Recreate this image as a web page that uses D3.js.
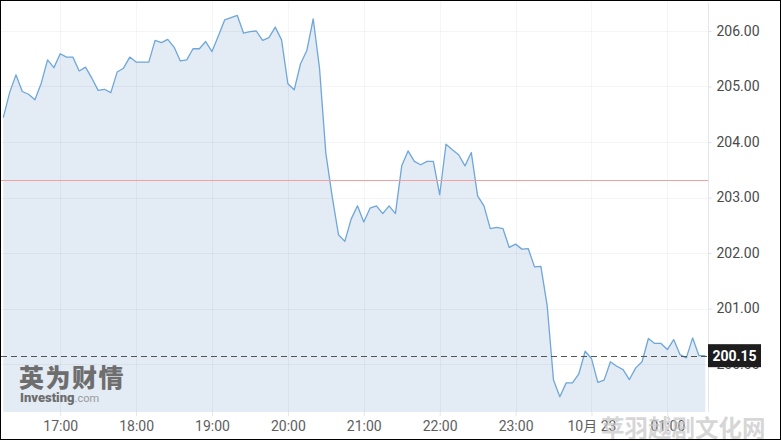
<!DOCTYPE html>
<html>
<head>
<meta charset="utf-8">
<script src="https://cdn.jsdelivr.net/npm/d3@7/dist/d3.min.js"></script>
<style>
  html, body { margin: 0; padding: 0; background: #fff; }
  svg { display: block; }
  text { font-family: Roboto, "Noto Sans", sans-serif; }
</style>
</head>
<body>
<svg id="chart" width="782" height="441"></svg>
<script>
// ---- data (5-minute prices, 16:15 → 01:30) ----
const startTime = new Date(2023, 9, 22, 16, 15);
const stepMinutes = 5;
const prices = [
  204.44, 204.89, 205.21, 204.91, 204.86, 204.76, 205.06, 205.48, 205.34, 205.59,
  205.53, 205.53, 205.28, 205.35, 205.15, 204.93, 204.95, 204.89, 205.26, 205.33,
  205.53, 205.44, 205.44, 205.44, 205.83, 205.79, 205.85, 205.71, 205.46, 205.48,
  205.68, 205.68, 205.81, 205.63, 205.91, 206.20, 206.24, 206.28, 205.96, 205.99,
  206.00, 205.83, 205.88, 206.07, 205.84, 205.05, 204.94, 205.41, 205.65, 206.22,
  205.33, 203.80, 203.02, 202.33, 202.21, 202.61, 202.85, 202.56, 202.81, 202.85,
  202.71, 202.85, 202.71, 203.57, 203.84, 203.65, 203.59, 203.65, 203.65, 203.05,
  203.96, 203.86, 203.77, 203.57, 203.81, 203.03, 202.85, 202.44, 202.46, 202.44,
  202.10, 202.16, 202.07, 202.08, 201.75, 201.76, 201.05, 199.71, 199.41, 199.66,
  199.66, 199.82, 200.23, 200.10, 199.67, 199.71, 200.04, 199.96, 199.90, 199.72,
  199.93, 200.04, 200.46, 200.37, 200.37, 200.26, 200.44, 200.17, 200.11, 200.47,
  200.15, 200.15
];
const yTickValues = [200, 201, 202, 203, 204, 205, 206];
const prevClose = 203.31;
const lastPrice = 200.15;
const lastLabel = "200.15";
const midnightLabel = "10月 23";
const logoText = "英为财情";
const logoSub = "Investing";
const logoSub2 = ".com";
const watermark = "苹羽越剧文化网";

const data = prices.map((v, i) => ({ t: new Date(startTime.getTime() + i * stepMinutes * 60000), v }));
const endTime = data[data.length - 1].t;

// ---- layout ----
const svg = d3.select("#chart");
const W = 782, H = 441;
const plotLeft = 1, plotRight = 708, plotTop = 1, plotBottom = 412;

const x = d3.scaleTime().domain([startTime, endTime]).range([3.3, 705.3]);
const y = d3.scaleLinear().domain([200, 206]).range([364, 31]);

svg.append("rect").attr("width", W).attr("height", H).attr("fill", "#fff");

svg.append("defs").append("clipPath").attr("id", "plotclip")
  .append("rect").attr("x", plotLeft).attr("y", plotTop)
  .attr("width", plotRight - plotLeft).attr("height", plotBottom - plotTop);

// area
const area = d3.area().x(d => x(d.t)).y0(plotBottom).y1(d => y(d.v));
svg.append("path").datum(data)
  .attr("d", area).attr("fill", "#e3ebf4")
  .attr("clip-path", "url(#plotclip)");

// grid
const hourTicks = d3.timeHour.every(1).range(new Date(2023, 9, 22, 17), new Date(2023, 9, 23, 1, 1));
const grid = svg.append("g").attr("clip-path", "url(#plotclip)");
grid.selectAll("line.h").data(yTickValues).join("line")
  .attr("x1", plotLeft).attr("x2", plotRight)
  .attr("y1", d => Math.round(y(d)) + 0.5).attr("y2", d => Math.round(y(d)) + 0.5)
  .attr("stroke", "rgba(60,80,110,0.06)").attr("stroke-width", 1);
grid.selectAll("line.v").data(hourTicks).join("line")
  .attr("x1", d => Math.round(x(d)) + 0.5).attr("x2", d => Math.round(x(d)) + 0.5)
  .attr("y1", plotTop).attr("y2", plotBottom)
  .attr("stroke", "rgba(60,80,110,0.06)").attr("stroke-width", 1);

// price line
const line = d3.line().x(d => x(d.t)).y(d => y(d.v));
svg.append("path").datum(data)
  .attr("d", line).attr("fill", "none")
  .attr("stroke", "#6ea7d8").attr("stroke-width", 1.3)
  .attr("stroke-linejoin", "round")
  .attr("clip-path", "url(#plotclip)");

// previous close line
svg.append("line")
  .attr("x1", plotLeft).attr("x2", plotRight)
  .attr("y1", Math.round(y(prevClose)) + 0.5).attr("y2", Math.round(y(prevClose)) + 0.5)
  .attr("stroke", "#f2a0a0").attr("stroke-width", 1);

// last price dashed line
svg.append("line")
  .attr("x1", plotLeft).attr("x2", plotRight)
  .attr("y1", Math.round(y(lastPrice)) + 0.5).attr("y2", Math.round(y(lastPrice)) + 0.5)
  .attr("stroke", "#555").attr("stroke-width", 1)
  .attr("stroke-dasharray", "6,4");

// right axis
const yAxis = d3.axisRight(y).tickValues(yTickValues).tickFormat(d3.format(".2f")).tickSize(3).tickPadding(5);
const gy = svg.append("g").attr("transform", `translate(${plotRight + 0.5},0)`).call(yAxis);
gy.select(".domain").remove();
gy.selectAll(".tick line").attr("stroke", "#dde0e6");
gy.selectAll(".tick text").attr("fill", "#4a4a4a").style("font-size", "14px").style("font-family", "Roboto");
svg.append("line")
  .attr("x1", plotRight + 0.5).attr("x2", plotRight + 0.5)
  .attr("y1", 3).attr("y2", plotBottom)
  .attr("stroke", "#e3e6ec").attr("stroke-width", 1);

// bottom axis
const fmt = d3.timeFormat("%H:%M");
const xAxis = d3.axisBottom(x).tickValues(hourTicks)
  .tickFormat(d => (d.getHours() === 0 ? midnightLabel : fmt(d)))
  .tickSize(4).tickPadding(5);
const gx = svg.append("g").attr("transform", `translate(0,${plotBottom})`).call(xAxis);
gx.select(".domain").remove();
gx.selectAll(".tick line").attr("stroke", "#e3e6ec");
gx.selectAll(".tick text").attr("fill", "#5e5e5e").style("font-size", "14px")
  .style("font-family", "Roboto, 'Noto Sans CJK SC', sans-serif");

// last price label
const ly = y(lastPrice);
svg.append("rect").attr("x", plotRight).attr("y", ly - 11.5).attr("width", 53).attr("height", 23)
  .attr("fill", "#1d1d1d");
svg.append("text").attr("x", plotRight + 26.5).attr("y", ly).attr("dy", "0.36em")
  .attr("text-anchor", "middle").attr("fill", "#fff")
  .style("font-size", "14px").style("font-weight", "700").text(lastLabel);

// logo watermark
svg.append("text").attr("x", 19).attr("y", 387)
  .attr("fill", "#6e6e6e").style("font-family", "'Noto Sans CJK SC'")
  .style("font-size", "25px").style("font-weight", "900").style("letter-spacing", "1.5px")
  .text(logoText);
const sub = svg.append("text").attr("x", 20).attr("y", 402)
  .style("font-family", "Roboto").style("font-size", "13px");
sub.append("tspan").attr("fill", "#6e6e6e").style("font-weight", "900").text(logoSub);
sub.append("tspan").attr("fill", "#9a9a9a").style("font-weight", "400").style("font-size", "11px").text(logoSub2);

// site watermark
svg.append("text").attr("x", 601).attr("y", 437)
  .attr("fill", "#c4c4c4").attr("fill-opacity", 0.7)
  .style("font-family", "'Noto Sans CJK SC'").style("font-size", "23.5px").style("font-weight", "700")
  .text(watermark);

// outer border
svg.append("rect").attr("x", 0.5).attr("y", 0.5).attr("width", 780).attr("height", 439)
  .attr("fill", "none").attr("stroke", "#000").attr("stroke-width", 1);
</script>
</body>
</html>
